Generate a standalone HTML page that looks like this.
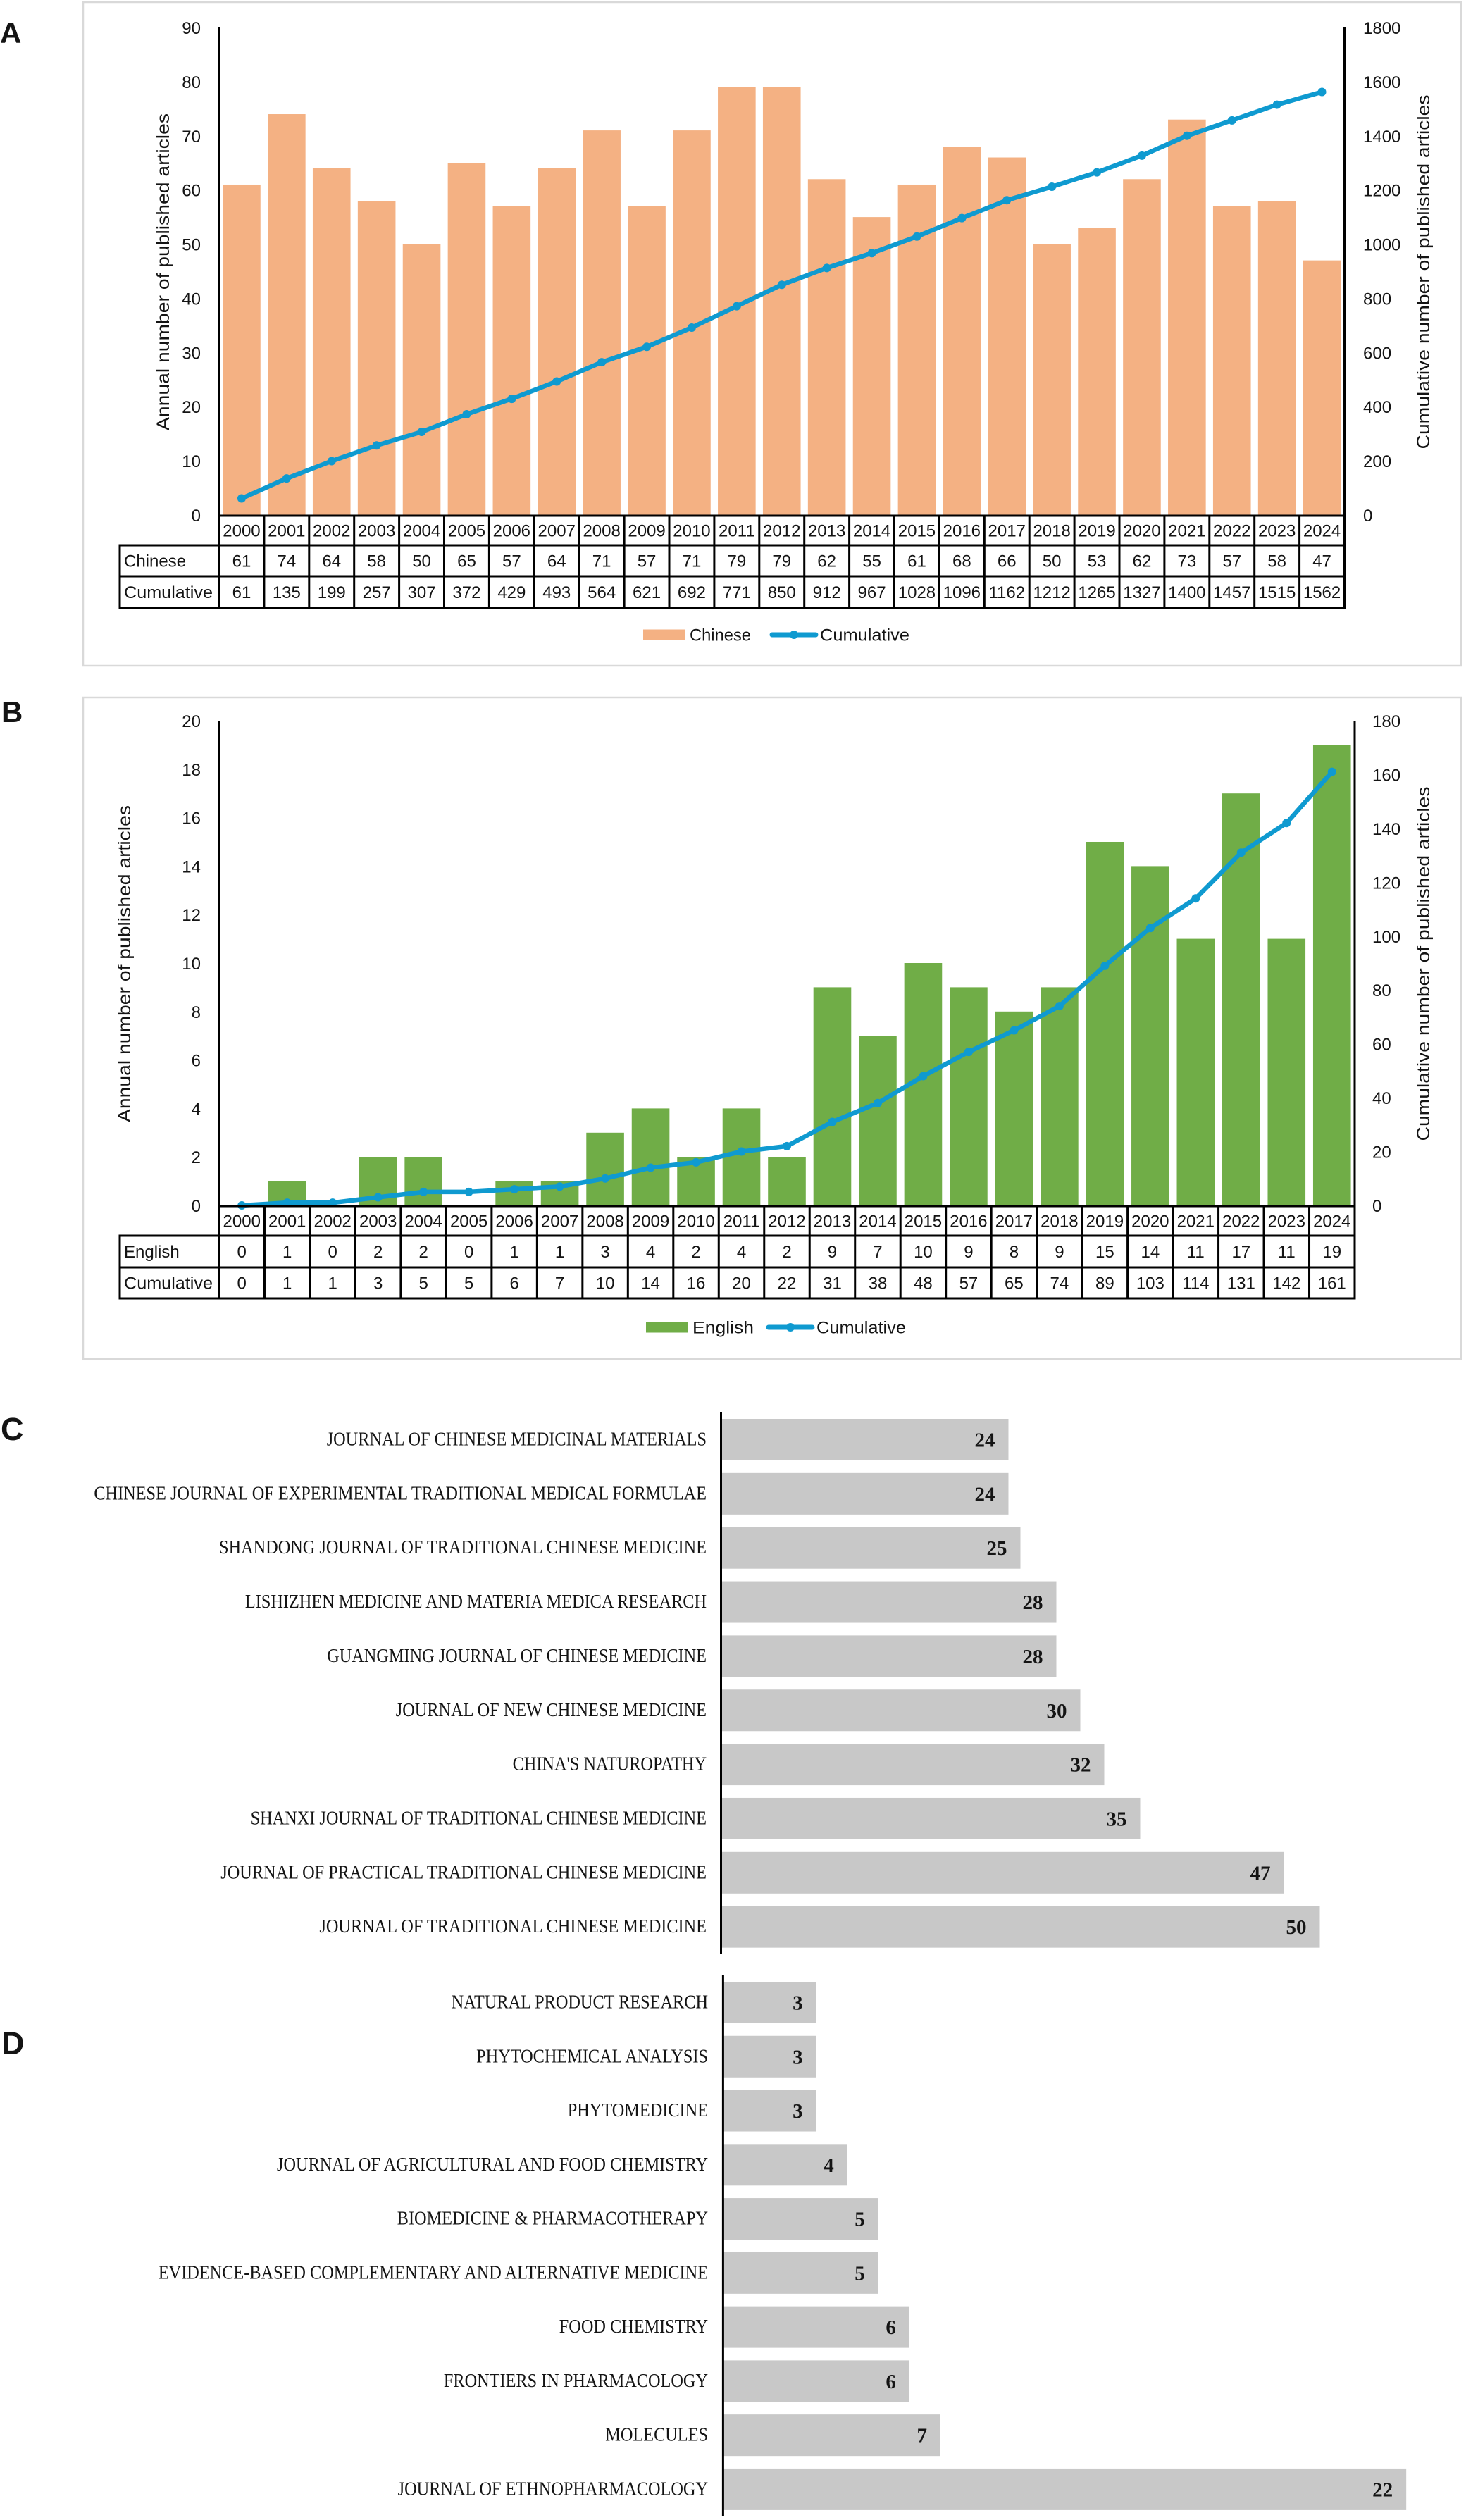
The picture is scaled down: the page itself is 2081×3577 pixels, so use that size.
<!DOCTYPE html>
<html lang="en">
<head>
<meta charset="utf-8">
<title>Publication trends and top journals</title>
<style>
html,body{margin:0;padding:0;background:#fff;width:2081px;height:3577px;overflow:hidden}
svg{display:block}
text{fill:#141414}
.s{font-family:"Liberation Sans",sans-serif}
.r{font-family:"Liberation Serif",serif}
</style>
</head>
<body>
<svg id="figure" xmlns="http://www.w3.org/2000/svg" width="2081" height="3577" viewBox="0 0 2081 3577">
<rect x="0" y="0" width="2081" height="3577" fill="#ffffff"/>
</svg>
<script>
const years = [2000,2001,2002,2003,2004,2005,2006,2007,2008,2009,2010,2011,2012,2013,2014,2015,2016,2017,2018,2019,2020,2021,2022,2023,2024];
const chineseCounts = [61,74,64,58,50,65,57,64,71,57,71,79,79,62,55,61,68,66,50,53,62,73,57,58,47];
const chineseCumulative = [61,135,199,257,307,372,429,493,564,621,692,771,850,912,967,1028,1096,1162,1212,1265,1327,1400,1457,1515,1562];
const englishCounts = [0,1,0,2,2,0,1,1,3,4,2,4,2,9,7,10,9,8,9,15,14,11,17,11,19];
const englishCumulative = [0,1,1,3,5,5,6,7,10,14,16,20,22,31,38,48,57,65,74,89,103,114,131,142,161];
const ticksALeft = [0,10,20,30,40,50,60,70,80,90];
const ticksARight = [0,200,400,600,800,1000,1200,1400,1600,1800];
const ticksBLeft = [0,2,4,6,8,10,12,14,16,18,20];
const ticksBRight = [0,20,40,60,80,100,120,140,160,180];
const journalsC = ["JOURNAL OF CHINESE MEDICINAL MATERIALS","CHINESE JOURNAL OF EXPERIMENTAL TRADITIONAL MEDICAL FORMULAE","SHANDONG JOURNAL OF TRADITIONAL CHINESE MEDICINE","LISHIZHEN MEDICINE AND MATERIA MEDICA RESEARCH","GUANGMING JOURNAL OF CHINESE MEDICINE","JOURNAL OF NEW CHINESE MEDICINE","CHINA'S NATUROPATHY","SHANXI JOURNAL OF TRADITIONAL CHINESE MEDICINE","JOURNAL OF PRACTICAL TRADITIONAL CHINESE MEDICINE","JOURNAL OF TRADITIONAL CHINESE MEDICINE"];
const valuesC = [24,24,25,28,28,30,32,35,47,50];
const journalsD = ["NATURAL PRODUCT RESEARCH","PHYTOCHEMICAL ANALYSIS","PHYTOMEDICINE","JOURNAL OF AGRICULTURAL AND FOOD CHEMISTRY","BIOMEDICINE & PHARMACOTHERAPY","EVIDENCE-BASED COMPLEMENTARY AND ALTERNATIVE MEDICINE","FOOD CHEMISTRY","FRONTIERS IN PHARMACOLOGY","MOLECULES","JOURNAL OF ETHNOPHARMACOLOGY"];
const valuesD = [3,3,3,4,5,5,6,6,7,22];

const NS = "http://www.w3.org/2000/svg";
const root = document.getElementById("figure");
const LINE = "#0f9ad0";

function add(parent, tag, attrs, txt) {
  const el = document.createElementNS(NS, tag);
  for (const k in attrs) el.setAttribute(k, attrs[k]);
  if (txt !== undefined) el.textContent = txt;
  parent.appendChild(el);
  return el;
}

function panelLetter(letter, x, y, size) {
  const el = add(root, "text", {x: x, y: y, "class": "s", "font-size": size, "font-weight": "700", fill: "#000"}, letter);
  
  
}

function comboChart(id, g, seriesName, counts, cumulative, leftTicks, rightTicks, leftMax, rightMax, color) {
  const wrap = add(root, "g", {});
  
  

  const frame = add(wrap, "rect", {x: g.fx, y: g.ft, width: g.fr - g.fx, height: g.fb - g.ft, fill: "#fff", stroke: "#d9d9d9", "stroke-width": 2.5});
  
  

  const cat = (g.right - g.left) / years.length;
  const xAt = i => g.left + (i + 0.5) * cat;
  const yLeft = v => g.zero - v / leftMax * (g.zero - g.top);
  const yRight = v => g.zero - v / rightMax * (g.zero - g.top);

  counts.forEach((v, i) => {
    const bar = add(wrap, "rect", {x: xAt(i) - 26.8, y: yLeft(v), width: 53.6, height: g.zero - yLeft(v), fill: color});
    
    
  });

  const path = add(wrap, "polyline", {points: cumulative.map((v, i) => xAt(i) + "," + yRight(v)).join(" "), fill: "none", stroke: LINE, "stroke-width": 6.5, "stroke-linejoin": "round", "stroke-linecap": "round"});
  
  

  cumulative.forEach((v, i) => {
    const dot = add(wrap, "circle", {cx: xAt(i), cy: yRight(v), r: 6, fill: LINE});
    
    
  });

  const axL = add(wrap, "line", {x1: g.left, y1: g.top, x2: g.left, y2: g.zero, stroke: "#000", "stroke-width": 3});
  
  
  const axR = add(wrap, "line", {x1: g.right, y1: g.top, x2: g.right, y2: g.zero, stroke: "#000", "stroke-width": 3});
  
  

  leftTicks.forEach(v => {
    const t = add(wrap, "text", {x: 285, y: yLeft(v) + 9, "text-anchor": "end", "class": "s", "font-size": 24}, v);
    
    
  });
  rightTicks.forEach(v => {
    const t = add(wrap, "text", {x: g.rtick, y: yRight(v) + 9, "class": "s", "font-size": 24}, v);
    
    
  });

  const lt = add(wrap, "text", {transform: "translate(" + g.ltx + "," + g.lty + ") rotate(-90)", "text-anchor": "middle", "class": "s", "font-size": 25, textLength: 450, lengthAdjust: "spacingAndGlyphs"}, "Annual number of published articles");
  
  
  const rt = add(wrap, "text", {transform: "translate(" + g.rtx + "," + g.rty + ") rotate(-90)", "text-anchor": "middle", "class": "s", "font-size": 25, textLength: 503, lengthAdjust: "spacingAndGlyphs"}, "Cumulative number of published articles");
  
  

  // data table
  const table = add(wrap, "g", {});
  
  
  const rows = g.rows;
  const hLine = (x1, x2, y) => {
    const l = add(table, "line", {x1: x1, x2: x2, y1: y, y2: y, stroke: "#000", "stroke-width": 3, "stroke-linecap": "square"});
    
    
  };
  const vLine = (x, y1, y2) => {
    const l = add(table, "line", {x1: x, x2: x, y1: y1, y2: y2, stroke: "#000", "stroke-width": 3, "stroke-linecap": "square"});
    
    
  };
  hLine(g.left, g.right, rows[0]);
  hLine(170, g.right, rows[1]);
  hLine(170, g.right, rows[2]);
  hLine(170, g.right, rows[3]);
  vLine(170, rows[1], rows[3]);
  for (let i = 0; i <= years.length; i++) vLine(g.left + i * cat, rows[0], rows[3]);

  const cell = (txt, x, rowIdx, name) => {
    const t = add(table, "text", {x: x, y: (rows[rowIdx] + rows[rowIdx + 1]) / 2 + 8.5, "text-anchor": "middle", "class": "s", "font-size": 24}, txt);
    
    
  };
  years.forEach((y, i) => {
    cell(y, xAt(i), 0, 'table-year-cell');
    cell(counts[i], xAt(i), 1, 'table-count-cell');
    cell(cumulative[i], xAt(i), 2, 'table-cumulative-cell');
  });
  const h1 = add(table, "text", {x: 176, y: (rows[1] + rows[2]) / 2 + 8.5, "class": "s", "font-size": 24}, seriesName);
  
  
  const h2 = add(table, "text", {x: 176, y: (rows[2] + rows[3]) / 2 + 8.5, "class": "s", "font-size": 24, textLength: 126, lengthAdjust: "spacingAndGlyphs"}, "Cumulative");
  
  

  // legend
  const sw = add(wrap, "rect", {x: g.lg.sx, y: g.lg.y - 7.5, width: 59, height: 15, fill: color});
  
  
  const st = add(wrap, "text", {x: g.lg.sx + 66, y: g.lg.y + 8.5, "class": "s", "font-size": 24, textLength: 87, lengthAdjust: "spacingAndGlyphs"}, seriesName);
  
  
  const ll = add(wrap, "line", {x1: g.lg.lx, x2: g.lg.lx + 62, y1: g.lg.y, y2: g.lg.y, stroke: LINE, "stroke-width": 7, "stroke-linecap": "round"});
  
  
  const ld = add(wrap, "circle", {cx: g.lg.lx + 31, cy: g.lg.y, r: 6, fill: LINE});
  
  
  const lc = add(wrap, "text", {x: g.lg.lx + 68, y: g.lg.y + 8.5, "class": "s", "font-size": 24, textLength: 127, lengthAdjust: "spacingAndGlyphs"}, "Cumulative");
  
  
}

function journalChart(id, labels, values, g) {
  const wrap = add(root, "g", {});
  
  
  const xAt = v => g.axis + v * g.unit;
  labels.forEach((name, i) => {
    const top = g.first + i * g.pitch;
    const bar = add(wrap, "rect", {x: g.axis, y: top, width: xAt(values[i]) - g.axis, height: 59, fill: "#c8c8c8"});
    
    
    const lab = add(wrap, "text", {transform: "translate(" + g.labelX + "," + (top + 37.5) + ") scale(0.9,1)", "text-anchor": "end", "class": "r", "font-size": 27}, name);
    
    
    const val = add(wrap, "text", {x: xAt(values[i]) - 19, y: top + 39.5, "text-anchor": "end", "class": "r", "font-size": 29, "font-weight": "700", fill: "#000"}, values[i]);
    
    
  });
  const ax = add(wrap, "line", {x1: g.axis, x2: g.axis, y1: g.y1, y2: g.y2, stroke: "#000", "stroke-width": 3});
  
  
}

panelLetter("A", 0, 61, 42);
comboChart("chart-a-chinese", {
  fx: 118, ft: 3, fr: 2074, fb: 945,
  left: 311, right: 1908.5, top: 39, zero: 731,
  rtick: 1935, ltx: 240, lty: 386, rtx: 2029, rty: 386,
  rows: [732, 774, 818, 863],
  lg: {sx: 913, lx: 1096, y: 901}
}, "Chinese", chineseCounts, chineseCumulative, ticksALeft, ticksARight, 90, 1800, "#f4b183");

panelLetter("B", 2, 1025, 42);
comboChart("chart-b-english", {
  fx: 118, ft: 990, fr: 2074, fb: 1929,
  left: 311, right: 1923, top: 1023, zero: 1711,
  rtick: 1948, ltx: 185, lty: 1368, rtx: 2029, rty: 1368,
  rows: [1712, 1754, 1799, 1843],
  lg: {sx: 917, lx: 1091, y: 1884}
}, "English", englishCounts, englishCumulative, ticksBLeft, ticksBRight, 20, 180, "#70ad47");

panelLetter("C", 1, 2044, 45);
journalChart("chart-c-chinese-journals", journalsC, valuesC, {axis: 1023.5, unit: 17, first: 2014, pitch: 76.85, labelX: 1003, y1: 2004, y2: 2773});

panelLetter("D", 2, 2916, 45);
journalChart("chart-d-english-journals", journalsD, valuesD, {axis: 1026.4, unit: 44.08, first: 2813, pitch: 76.77, labelX: 1005, y1: 2803, y2: 3572});
</script>
</body>
</html>
